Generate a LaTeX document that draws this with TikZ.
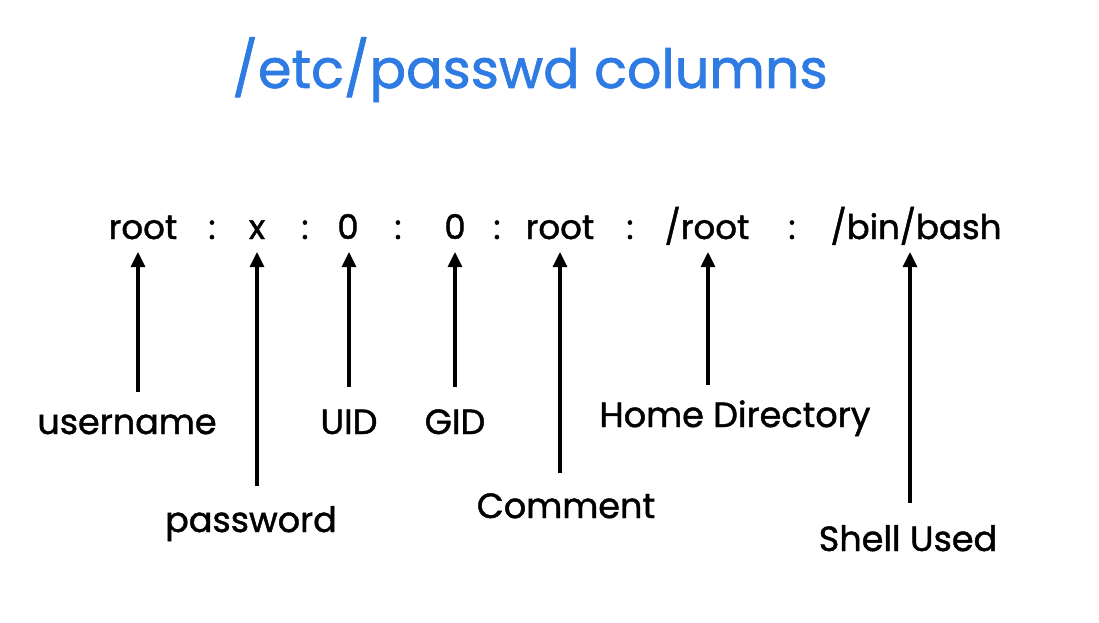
\documentclass[tikz,border=0pt]{standalone}
\usepackage{fontspec}
\setmainfont{Poppins}[BoldFont=Poppins, BoldFeatures={FakeBold=1.3}]
\usetikzlibrary{arrows.meta}
\definecolor{titleblue}{HTML}{2F7BE4}
\begin{document}
\begin{tikzpicture}[x=1pt,y=-1pt,
  field/.style={inner sep=0pt,anchor=base,font=\fontsize{34}{36}\bfseries\selectfont},
  lab/.style={inner sep=0pt,anchor=base,font=\fontsize{35}{38}\bfseries\selectfont},
  arr/.style={line width=3.2pt,-{Triangle[length=15pt,width=14pt]}}]
\useasboundingbox[fill=white] (0,0) rectangle (1099,623);
\node[inner sep=0pt,anchor=base,text=titleblue,font=\fontsize{54}{58}\bfseries\selectfont] (title) at (530,88) {/etc/passwd columns};
% row
\node[field] (f1) at (143,239) {root};
\node[field] (c1) at (212,239) {:};
\node[field] (f2) at (257,239) {x};
\node[field] (c2) at (305,239) {:};
\node[field] (f3) at (348,239) {0};
\node[field] (c3) at (398,239) {:};
\node[field] (f4) at (455,239) {0};
\node[field] (c4) at (497,239) {:};
\node[field] (f5) at (560,239) {root};
\node[field] (c5) at (630,239) {:};
\node[field] (f6) at (707,239) {/root};
\node[field] (c6) at (792,239) {:};
\node[field] (f7) at (916,239) {/bin/bash};
% arrow tips
\coordinate (t1) at (138,252);
\coordinate (t2) at (257,252);
\coordinate (t3) at (349,252);
\coordinate (t4) at (455,252);
\coordinate (t5) at (560,252);
\coordinate (t6) at (708,252);
\coordinate (t7) at (910,252);
% labels
\node[lab] (l1) at (127,434) {username};
\node[lab] (l2) at (251,532) {password};
\node[lab] (l3) at (349,434) {UID};
\node[lab] (l4) at (455,434) {GID};
\node[lab] (l5) at (566,518) {Comment};
\node[lab] (l6) at (735,427) {Home Directory};
\node[lab] (l7) at (908,551) {Shell Used};
% arrows
\draw[arr] (l1.north -| t1) ++(0,-22) -- (t1);
\draw[arr] (l2.north -| t2) ++(0,-20) -- (t2);
\draw[arr] (l3.north -| t3) ++(0,-22) -- (t3);
\draw[arr] (l4.north -| t4) ++(0,-22) -- (t4);
\draw[arr] (l5.north -| t5) ++(0,-20) -- (t5);
\draw[arr] (l6.north -| t6) ++(0,-15) -- (t6);
\draw[arr] (l7.north -| t7) ++(0,-22) -- (t7);
\end{tikzpicture}
\end{document}
